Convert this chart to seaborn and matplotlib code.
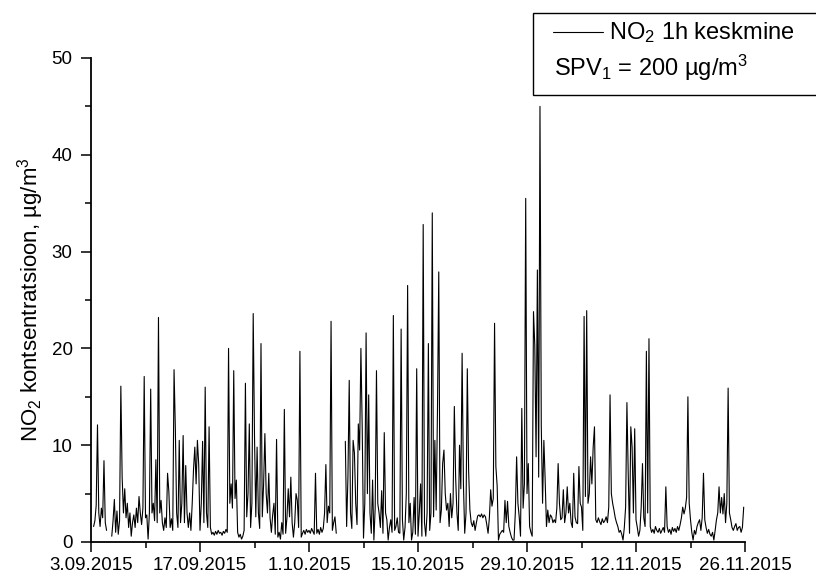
import numpy as np
import pandas as pd
import matplotlib
matplotlib.use("Agg")
import matplotlib.pyplot as plt
import matplotlib.dates as mdates
from matplotlib.patches import Rectangle
from matplotlib.lines import Line2D
from matplotlib.ticker import FuncFormatter, FixedLocator, MultipleLocator
import seaborn as sns

# NO2 hourly concentration, sampled every 4 hours (6 readings per day), µg/m3
nan = np.nan
no2_values = [
    nan, nan, 1.6, 2.2, 3.8, 12.1,      # 03.09
    3.0, 1.6, 3.5, 2.5, 8.4, 2.0,
    1.2, nan, nan, nan, 0.6, 2.2,
    4.4, 1.0, 3.2, 0.8, 2.2, 16.1,
    6.7, 3.0, 5.5, 2.5, 4.0, 1.5,
    3.0, 0.6, 2.0, 2.8, 1.5, 3.5,
    2.0, 4.7, 3.0, 1.8, 3.5, 17.1,
    2.5, 2.8, 0.3, 3.0, 15.8, 3.0,      # 10.09
    4.0, 2.2, 8.5, 2.0, 23.2, 3.0,
    4.3, 2.0, 1.2, 2.5, 1.5, 7.1,
    5.2, 1.5, 2.4, 1.2, 17.8, 11.7,
    3.0, 1.5, 10.5, 2.0, 4.0, 11.0,
    2.0, 7.9, 3.0, 1.5, 3.0, 1.2,
    4.0, 7.5, 9.8, 6.0, 10.5, 8.0,
    1.2, 4.0, 10.4, 2.0, 16.0, 3.0,     # 17.09
    1.5, 11.9, 1.5, 0.8, 1.0, 0.7,
    1.1, 0.8, 1.2, 0.9, 1.0, 0.7,
    1.1, 0.9, 1.3, 1.0, 20.0, 4.0,
    6.0, 3.5, 17.7, 4.5, 6.4, 1.0,
    0.5, 0.8, 0.3, 0.6, 1.2, 16.4,
    2.6, 5.0, 12.2, 1.5, 4.0, 23.6,
    10.9, 2.6, 9.8, 3.0, 1.4, 20.5,     # 24.09
    2.6, 5.9, 11.2, 5.0, 3.0, 7.1,
    2.5, 1.0, 2.8, 4.0, 0.8, 10.6,
    0.5, 1.0, 0.3, 2.0, 0.8, 13.7,
    0.9, 2.5, 5.5, 2.6, 6.7, 2.0,
    0.5, 2.0, 5.0, 4.3, 1.5, 19.7,
    0.5, 0.9, 1.2, 0.8, 1.3, 1.0,
    1.2, 0.9, 1.4, 1.1, 0.8, 7.1,       # 01.10
    0.9, 1.3, 0.8, 1.5, 1.0, 1.4,
    3.0, 8.0, 2.0, 3.7, 3.0, 22.8,
    1.2, 2.0, 2.6, 0.9, nan, nan,
    nan, nan, nan, nan, 10.4, 1.6,
    6.7, 16.7, 3.0, 1.4, 10.5, 9.2,
    4.0, 1.8, 12.2, 9.5, 20.0, 11.9,
    0.4, 4.0, 21.6, 5.0, 15.2, 3.0,     # 08.10
    0.9, 6.4, 0.2, 3.5, 17.7, 4.0,
    3.0, 1.5, 5.3, 0.9, 11.3, 3.0,
    2.3, 0.2, 1.5, 2.3, 1.0, 23.4,
    1.2, 1.6, 2.5, 1.0, 0.9, 22.0,
    2.3, 0.2, 1.5, 5.0, 26.5, 2.0,
    4.0, 0.2, 1.0, 4.6, 0.8, 17.9,
    0.6, 3.0, 6.0, 0.6, 32.8, 2.0,      # 15.10
    0.6, 3.0, 20.5, 1.2, 3.0, 34.0,
    2.6, 10.5, 3.3, 13.5, 27.9, 2.0,
    3.3, 8.1, 9.5, 5.0, 3.3, 4.0,
    1.6, 5.0, 2.5, 4.0, 14.0, 6.7,
    3.0, 1.2, 10.0, 5.5, 19.5, 6.0,
    0.9, 3.0, 17.9, 7.4, 3.3, 2.0,
    1.6, 2.2, 1.2, 2.0, 2.7, 2.8,       # 22.10
    2.6, 2.9, 2.5, 2.8, 2.6, 1.8,
    0.9, 2.5, 5.4, 3.7, 4.5, 22.6,
    7.8, 5.8, 0.2, 0.8, 1.0, 1.2,
    1.0, 4.3, 2.0, 4.2, 1.6, 1.0,
    0.5, 0.2, 0.2, 3.0, 8.8, 4.0,
    2.6, 0.6, 13.8, 3.5, 6.0, 35.5,
    5.0, 8.1, 1.6, 1.0, 0.6, 23.8,      # 29.10
    20.3, 8.8, 28.1, 6.7, 45.0, 12.0,
    4.0, 10.5, 6.4, 1.6, 3.3, 2.0,
    2.8, 2.6, 2.0, 2.3, 2.0, 3.5,
    8.1, 4.0, 2.3, 2.5, 5.4, 2.0,
    3.0, 5.7, 3.0, 4.0, 2.0, 1.5,
    7.1, 2.6, 2.0, 1.9, 7.8, 4.0,
    3.6, 1.2, 23.3, 4.7, 23.9, 4.0,     # 05.11
    5.0, 8.8, 6.0, 9.8, 11.9, 2.3,
    2.0, 2.5, 2.1, 1.8, 2.4, 2.0,
    2.2, 2.6, 2.0, 3.6, 15.2, 5.0,
    4.0, 3.3, 2.5, 2.0, 1.6, 1.0,
    1.2, 0.8, 0.2, 1.5, 3.6, 14.4,
    7.1, 0.9, 11.9, 9.8, 3.0, 11.7,
    2.3, 1.5, 0.6, 1.2, 3.6, 8.1,       # 12.11
    2.5, 1.6, 19.7, 3.0, 21.0, 1.6,
    1.0, 1.3, 0.9, 1.6, 1.2, 1.0,
    1.4, 0.9, 1.2, 1.5, 1.0, 5.7,
    1.6, 1.0, 1.3, 0.8, 1.5, 1.1,
    1.4, 1.0, 1.6, 1.2, 1.8, 2.5,
    3.6, 2.9, 3.5, 4.6, 15.0, 4.0,
    2.3, 1.0, 0.2, 1.2, 0.8, 1.6,       # 19.11
    2.0, 2.3, 1.2, 2.5, 7.1, 2.3,
    1.5, 0.9, 1.3, 0.8, 0.6, 1.0,
    0.2, 1.2, 2.3, 3.0, 5.7, 3.0,
    4.6, 2.9, 5.0, 2.0, 4.0, 15.9,
    3.0, 2.3, 1.5, 1.2, 1.6, 1.9,
    1.2, 1.5, 1.6, 1.0, 1.5, 3.6,
]

start_date = "2015-09-03"
end_date = "2015-11-26"
tick_dates = ["2015-09-03", "2015-09-17", "2015-10-01", "2015-10-15",
              "2015-10-29", "2015-11-12", "2015-11-26"]
y_ticks = [0, 10, 20, 30, 40, 50]

times = pd.date_range(start_date, periods=len(no2_values), freq="4h")
df = pd.DataFrame({"time": times, "no2": no2_values})
# split into continuous pieces so that missing hours leave a gap
df["piece"] = df["no2"].isna().cumsum()
df = df.dropna()

sns.set_theme(style="ticks")
plt.rcParams["font.family"] = ["Liberation Sans", "DejaVu Sans"]
plt.rcParams["mathtext.fontset"] = "custom"
plt.rcParams["mathtext.rm"] = "Liberation Sans"
plt.rcParams["mathtext.it"] = "Liberation Sans"
FS_TICK = 13.5
FS_LABEL = 16
FS_LEG = 17

fig = plt.figure(figsize=(8.16, 5.76), dpi=100)
ax = fig.add_axes([91 / 816, 1 - 542 / 576, (745 - 91) / 816, (542 - 58) / 576])

sns.lineplot(data=df, x="time", y="no2", units="piece", estimator=None,
             color="black", linewidth=0.8, ax=ax, legend=False)

ax.set_xlim(pd.Timestamp(start_date), pd.Timestamp(end_date))
ax.set_ylim(0, 50)

major = [mdates.date2num(pd.Timestamp(d)) for d in tick_dates]
minor = [m + 7 for m in major[:-1]]
ax.xaxis.set_major_locator(FixedLocator(major))
ax.xaxis.set_minor_locator(FixedLocator(minor))
ax.xaxis.set_major_formatter(FuncFormatter(
    lambda v, _: (lambda d: f"{d.day}.{d.month:02d}.{d.year}")(mdates.num2date(v))))
ax.yaxis.set_major_locator(FixedLocator(y_ticks))
ax.yaxis.set_minor_locator(MultipleLocator(5))

for side in ("top", "right"):
    ax.spines[side].set_visible(False)
for side in ("left", "bottom"):
    ax.spines[side].set_linewidth(1.3)
    ax.spines[side].set_color("black")
ax.tick_params(which="major", direction="out", length=7.2, width=1.1,
               color="black", labelsize=FS_TICK, labelcolor="black")
ax.tick_params(axis="y", which="major", pad=6)
ax.tick_params(axis="x", which="major", pad=3.5)
ax.tick_params(which="minor", direction="out", length=4.0, width=1.1, color="black")
ax.set_xlabel("")
ax.set_ylabel("NO$_2$ kontsentratsioon, µg/m$^3$", fontsize=FS_LABEL,
              color="black", labelpad=4)
ax.grid(False)

# legend box at the top right
fig.add_artist(Rectangle((533 / 816, 1 - 95 / 576), 0.5, (95 - 13) / 576,
                         transform=fig.transFigure, facecolor="white",
                         edgecolor="black", linewidth=1.0, clip_on=False))
fig.add_artist(Line2D([553 / 816, 603 / 816], [1 - 32 / 576, 1 - 32 / 576],
                      transform=fig.transFigure, color="black", linewidth=0.8))
fig.text(609 / 816, 1 - 33 / 576, "NO$_2$ 1h keskmine", fontsize=FS_LEG,
         va="center", ha="left", color="black")
fig.text(554 / 816, 1 - 68 / 576, "SPV$_1$ = 200 µg/m$^3$", fontsize=FS_LEG,
         va="center", ha="left", color="black")

fig.savefig("out.png", dpi=100)
